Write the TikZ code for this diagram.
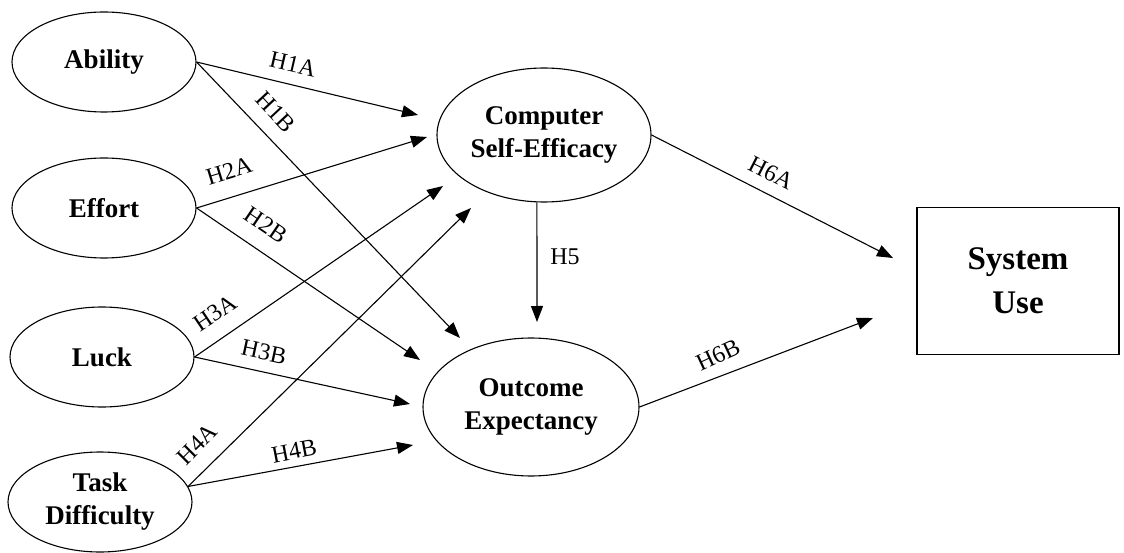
\documentclass[tikz,border=0pt]{standalone}
\usepackage{fontspec}
\setmainfont{Liberation Serif}
\usetikzlibrary{shapes.geometric,arrows.meta}
\begin{document}
\begin{tikzpicture}[x=1pt,y=-1pt,
  lat/.style={draw, ellipse, line width=1.1pt, inner sep=0pt, align=center,
    font=\bfseries\fontsize{27}{33}\selectfont},
  small/.style={lat, minimum width=184pt, minimum height=100pt},
  big/.style={lat, minimum width=214pt, minimum height=134pt},
  conn/.style={line width=1.1pt, -{Triangle[length=16pt,width=12pt]}},
  hyp/.style={font=\fontsize{24}{24}\selectfont, inner sep=0pt}]
\useasboundingbox (0,0) rectangle (1124,553);

% nodes
\node[small] (ab) at (104,62) {Ability};
\node[small] (ef) at (104,208) {Effort};
\node[small] (lu) at (102,357) {Luck};
\node[small] (td) at (100,502) {Task\\Difficulty};
\node[big] (cse) at (544,135) {Computer\\Self-Efficacy};
\node[big, minimum width=216pt, minimum height=138pt] (oe) at (531,407) {Outcome\\Expectancy};
\node[draw, rectangle, line width=1.1pt, minimum width=202pt, minimum height=147pt,
  align=center, font=\bfseries\fontsize{33}{44}\selectfont] (su) at (1018,281) {System\\Use};

% arrow tips
\coordinate (t1a) at (418,115);
\coordinate (t1b) at (460,338);
\coordinate (t2a) at (427,137);
\coordinate (t2b) at (420,360);
\coordinate (t3a) at (443,186);
\coordinate (t3b) at (410,404);
\coordinate (t4a) at (471,208);
\coordinate (t4b) at (413,445);
\coordinate (t5) at (537,322);
\coordinate (t6a) at (893,258);
\coordinate (t6b) at (873,318);

% connectors
\draw[conn] (ab.east) -- (t1a);
\draw[conn] (ab.east) -- (t1b);
\draw[conn] (ef.east) -- (t2a);
\draw[conn] (ef.east) -- (t2b);
\draw[conn] (lu.east) -- (t3a);
\draw[conn] (lu.east) -- (t3b);
\draw[conn] (td.10) -- (t4a);
\draw[conn] (td.10) -- (t4b);
\draw[conn] (cse.264) -- (t5);
\draw[conn] (cse.east) -- (t6a);
\draw[conn] (oe.east) -- (t6b);

% labels
\node[hyp, rotate=-13] (l1a) at (293,64) {H1A};
\node[hyp, rotate=-47] (l1b) at (276,112) {H1B};
\node[hyp, rotate=17] (l2a) at (229,171) {H2A};
\node[hyp, rotate=-34] (l2b) at (266,225) {H2B};
\node[hyp, rotate=34] (l3a) at (215,313) {H3A};
\node[hyp, rotate=-12] (l3b) at (264,352) {H3B};
\node[hyp, rotate=45] (l4a) at (197,444) {H4A};
\node[hyp, rotate=11] (l4b) at (294,451) {H4B};
\node[hyp] (l5) at (565,257) {H5};
\node[hyp, rotate=-27] (l6a) at (771,173) {H6A};
\node[hyp, rotate=25] (l6b) at (718,355) {H6B};
\end{tikzpicture}
\end{document}
